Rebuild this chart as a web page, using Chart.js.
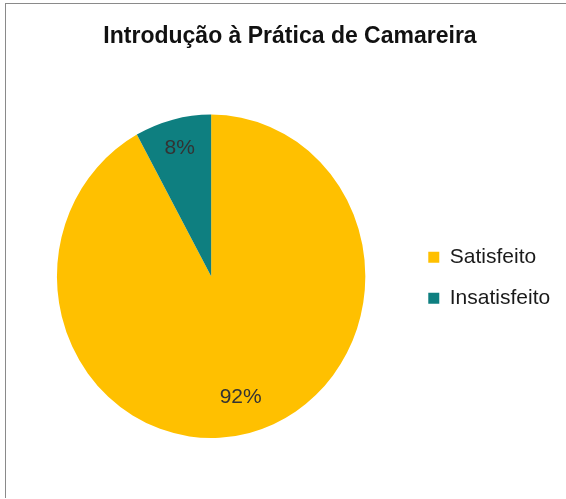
<!DOCTYPE html>
<html>
<head>
<meta charset="utf-8">
<script src="https://cdn.jsdelivr.net/npm/chart.js@4"></script>
<style>
    html, body { margin: 0; padding: 0; background: #fff; }
    #moldura {
        position: absolute; left: 5px; top: 3px; width: 600px; height: 494px;
        border-left: 1px solid #8a8a8a; border-top: 1px solid #8a8a8a;
    }
    #boxGrafico { position: absolute; left: 0; top: 0; width: 566px; height: 499px; }
</style>
</head>
<body>
<div id="moldura"></div>
<div id="boxGrafico"><canvas id="graficoPizza"></canvas></div>
<script>
// Dados do gráfico
const categorias = ['Satisfeito', 'Insatisfeito'];
const valores = [92, 8];
const rotulos = ['92%', '8%'];
const cores = ['#FFC000', '#0E7F80'];

// A pizza original é um pouco mais estreita que alta
const escalaX = 0.9536;
// distância do rótulo ao centro (fração do raio)
const distRotulo = [0.77, 0.82];

const pluginPizza = {
    id: 'pizzaOval',
    beforeDatasetsDraw(chart) {
        const arco = chart.getDatasetMeta(0).data[0];
        const ctx = chart.ctx;
        ctx.save();
        ctx.translate(arco.x, arco.y);
        ctx.scale(escalaX, 1);
        ctx.translate(-arco.x, -arco.y);
    },
    afterDatasetsDraw(chart) {
        const ctx = chart.ctx;
        ctx.restore();
        // Rótulos dentro das fatias
        const meta = chart.getDatasetMeta(0);
        ctx.save();
        ctx.font = '21px "Liberation Sans", Arial, sans-serif';
        ctx.fillStyle = '#333333';
        ctx.textAlign = 'center';
        ctx.textBaseline = 'middle';
        meta.data.forEach((arco, i) => {
            const meio = (arco.startAngle + arco.endAngle) / 2;
            const r = arco.outerRadius * distRotulo[i];
            ctx.fillText(rotulos[i], arco.x + Math.cos(meio) * r * escalaX, arco.y + Math.sin(meio) * r);
        });
        ctx.restore();
    }
};

const ctxPizza = document.getElementById('graficoPizza');

const chart = new Chart(ctxPizza, {
    type: 'pie',
    data: {
        labels: categorias,
        datasets: [{
            data: valores,
            backgroundColor: cores,
            borderWidth: 0
        }]
    },
    options: {
        responsive: true,
        maintainAspectRatio: false,
        animation: false,
        layout: {
            padding: { left: 14, right: 0, top: 0, bottom: 61 }
        },
        plugins: {
            title: {
                display: true,
                text: 'Introdução à Prática de Camareira',
                color: '#111111',
                font: { family: '"Liberation Sans", Arial, sans-serif', size: 23, weight: 'bold' },
                padding: { top: 23, bottom: 64 }
            },
            legend: {
                position: 'right',
                title: {
                    display: true,
                    text: '',
                    font: { size: 12 },
                    padding: { top: 0, bottom: 103 }
                },
                labels: {
                    color: '#1a1a1a',
                    font: { family: '"Liberation Sans", Arial, sans-serif', size: 21 },
                    boxWidth: 11,
                    boxHeight: 11,
                    padding: 20,
                    generateLabels(chart) {
                        const itens = Chart.overrides.pie.plugins.legend.labels.generateLabels(chart);
                        return itens.map(item => ({ ...item, text: item.text + ' ' }));
                    }
                }
            },
            tooltip: { enabled: false }
        }
    },
    plugins: [pluginPizza]
});
</script>
</body>
</html>
